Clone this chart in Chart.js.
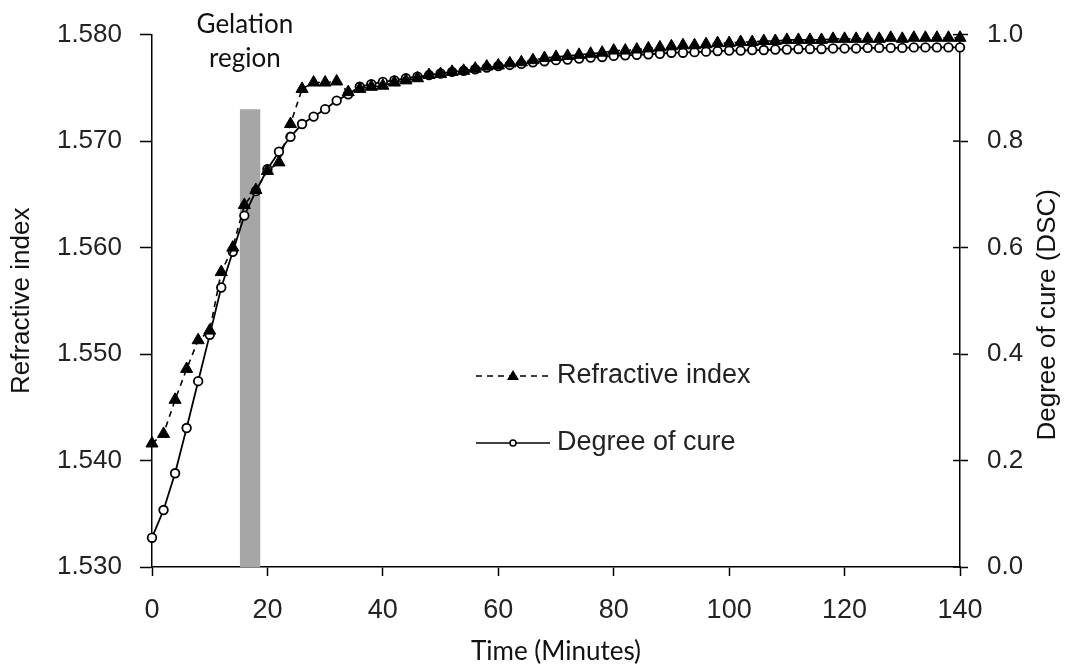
<!DOCTYPE html>
<html lang="en">
<head>
<meta charset="UTF-8">
<title>Refractive index and degree of cure</title>
<script src="https://cdn.jsdelivr.net/npm/chart.js"></script>
<style>
  body { margin: 0; background: #fff; }
  #wrap { width: 1067px; height: 667px; }
</style>
</head>
<body>
<div id="wrap"><canvas id="chart" width="1067" height="667"></canvas></div>
<script>
// time in minutes
const times = [
  0, 2, 4, 6, 8, 10, 12, 14, 16, 18,
  20, 22, 24, 26, 28, 30, 32, 34, 36, 38,
  40, 42, 44, 46, 48, 50, 52, 54, 56, 58,
  60, 62, 64, 66, 68, 70, 72, 74, 76, 78,
  80, 82, 84, 86, 88, 90, 92, 94, 96, 98,
  100, 102, 104, 106, 108, 110, 112, 114, 116, 118,
  120, 122, 124, 126, 128, 130, 132, 134, 136, 138,
  140
];

// left axis
const refractiveIndex = [
  1.5416, 1.5425, 1.5457, 1.5486, 1.5513, 1.5522, 1.5577, 1.5600, 1.5640, 1.5654,
  1.5672, 1.5680, 1.5716, 1.5749, 1.5755, 1.5755, 1.5756, 1.5746, 1.5749, 1.5751,
  1.5752, 1.5755, 1.5757, 1.5759, 1.5762, 1.5763, 1.5765, 1.5766, 1.5768, 1.5770,
  1.5771, 1.5773, 1.5774, 1.5776, 1.5778, 1.5779, 1.5780, 1.5781, 1.5782, 1.5783,
  1.5785, 1.5785, 1.5786, 1.5787, 1.5788, 1.5789, 1.5790, 1.5790, 1.5791, 1.5792,
  1.5792, 1.5793, 1.5793, 1.5794, 1.5794, 1.5795, 1.5795, 1.5795, 1.5795, 1.5796,
  1.5796, 1.5796, 1.5796, 1.5796, 1.5797, 1.5796, 1.5797, 1.5797, 1.5797, 1.5797,
  1.5797
];

// right axis (DSC)
const degreeOfCure = [
  0.055, 0.107, 0.176, 0.261, 0.349, 0.436, 0.525, 0.592, 0.660, 0.706,
  0.747, 0.780, 0.808, 0.832, 0.846, 0.860, 0.876, 0.888, 0.902, 0.907,
  0.911, 0.914, 0.918, 0.921, 0.924, 0.927, 0.930, 0.932, 0.935, 0.938,
  0.941, 0.943, 0.945, 0.948, 0.950, 0.952, 0.953, 0.955, 0.957, 0.958,
  0.960, 0.961, 0.962, 0.963, 0.964, 0.966, 0.966, 0.967, 0.968, 0.969,
  0.970, 0.970, 0.971, 0.971, 0.972, 0.972, 0.973, 0.973, 0.973, 0.974,
  0.974, 0.974, 0.975, 0.975, 0.975, 0.975, 0.976, 0.976, 0.976, 0.976,
  0.976
];

// gray band marking the gelation region
const gelationX = [15.2, 18.8];
const gelationTop = [1.573, 1.573];

const gelationLabel = ['Gelation', 'region'];
const rightTitle = 'Degree of cure (DSC)';

// labels, legend, right title and the inner half of the right-axis ticks
const extras = {
  id: 'extras',
  afterDraw(chart) {
    const ctx = chart.ctx;
    const x = chart.scales.x;
    const yr = chart.scales.y1;
    const area = chart.chartArea;
    ctx.save();

    ctx.strokeStyle = '#000';
    ctx.lineWidth = 1.5;
    yr.ticks.forEach(t => {
      const py = yr.getPixelForValue(t.value);
      ctx.beginPath();
      ctx.moveTo(yr.left - 7, py);
      ctx.lineTo(yr.left, py);
      ctx.stroke();
    });

    ctx.fillStyle = '#111';
    ctx.font = '26px Lato';
    ctx.textAlign = 'center';
    ctx.textBaseline = 'alphabetic';
    const gx = x.getPixelForValue(16.1);
    ctx.fillText(gelationLabel[0], gx, 33);
    ctx.fillText(gelationLabel[1], gx, 67);

    // right axis title, reading bottom to top like the left one
    ctx.save();
    ctx.translate(1048, (area.top + area.bottom) / 2 + 14);
    ctx.rotate(-Math.PI / 2);
    ctx.font = '26px "Liberation Sans"';
    ctx.textBaseline = 'middle';
    ctx.fillText(rightTitle, 0, 0);
    ctx.restore();

    // legend
    ctx.font = '27px "Liberation Sans"';
    ctx.textAlign = 'left';
    ctx.textBaseline = 'middle';

    let ly = 376;
    ctx.setLineDash([6, 5]);
    ctx.beginPath();
    ctx.moveTo(476, ly);
    ctx.lineTo(550, ly);
    ctx.stroke();
    ctx.setLineDash([]);
    ctx.fillStyle = '#000';
    ctx.beginPath();
    ctx.moveTo(513, ly - 6);
    ctx.lineTo(519, ly + 4);
    ctx.lineTo(507, ly + 4);
    ctx.closePath();
    ctx.fill();
    ctx.fillStyle = '#222';
    ctx.fillText('Refractive index', 557, ly);

    ly = 443;
    ctx.beginPath();
    ctx.moveTo(476, ly);
    ctx.lineTo(550, ly);
    ctx.stroke();
    ctx.fillStyle = '#fff';
    ctx.beginPath();
    ctx.arc(513, ly, 3, 0, Math.PI * 2);
    ctx.fill();
    ctx.stroke();
    ctx.fillStyle = '#222';
    ctx.fillText('Degree of cure', 557, ly);

    ctx.restore();
  }
};

const tickFont = { family: 'Liberation Sans', size: 26 };

new Chart(document.getElementById('chart'), {
  type: 'line',
  data: {
    datasets: [
      {
        label: 'Refractive index',
        data: times.map((t, i) => ({ x: t, y: refractiveIndex[i] })),
        yAxisID: 'y',
        borderColor: '#000',
        borderWidth: 1.6,
        borderDash: [6, 5],
        pointStyle: 'triangle',
        pointRadius: 7,
        pointBackgroundColor: '#000',
        pointBorderColor: '#000',
        pointBorderWidth: 1,
        tension: 0,
        clip: false,
        order: 1
      },
      {
        label: 'Degree of cure',
        data: times.map((t, i) => ({ x: t, y: degreeOfCure[i] })),
        yAxisID: 'y1',
        borderColor: '#000',
        borderWidth: 1.8,
        pointStyle: 'circle',
        pointRadius: 4.3,
        pointBackgroundColor: '#fff',
        pointBorderColor: '#000',
        pointBorderWidth: 1.8,
        tension: 0,
        clip: false,
        order: 2
      },
      {
        label: 'Gelation region',
        data: gelationX.map((g, i) => ({ x: g, y: gelationTop[i] })),
        yAxisID: 'y',
        borderWidth: 0,
        pointRadius: 0,
        fill: 'start',
        backgroundColor: '#a6a6a6',
        order: 3
      }
    ]
  },
  options: {
    responsive: false,
    animation: false,
    layout: { padding: { top: 26 } },
    plugins: {
      legend: { display: false },
      tooltip: { enabled: false }
    },
    scales: {
      x: {
        type: 'linear',
        min: 0,
        max: 140,
        ticks: { stepSize: 20, color: '#222', font: { family: 'Liberation Sans', size: 27 }, padding: 18 },
        grid: { drawOnChartArea: false, color: '#000', tickLength: 9, tickWidth: 1.5 },
        border: { color: '#000', width: 1.5 },
        title: { display: true, text: 'Time (Minutes)', color: '#111', font: { family: 'Lato', size: 26 }, padding: { top: 0, bottom: 0 } },
        afterFit(s) { s.height = 100; }
      },
      y: {
        position: 'left',
        min: 1.53,
        max: 1.58,
        ticks: { stepSize: 0.01, color: '#222', font: tickFont, padding: 18, callback: v => v.toFixed(3) },
        grid: { drawOnChartArea: false, color: '#000', tickLength: 12, tickWidth: 1.5 },
        border: { color: '#000', width: 1.5 },
        title: { display: true, text: 'Refractive index', color: '#111', font: { family: 'Liberation Sans', size: 26 }, padding: { top: 6, bottom: 0 } },
        afterFit(s) { s.width = 152; }
      },
      y1: {
        position: 'right',
        min: 0,
        max: 1,
        ticks: { stepSize: 0.2, color: '#222', font: tickFont, padding: 19, callback: v => v.toFixed(1) },
        grid: { drawOnChartArea: false, color: '#000', tickLength: 8, tickWidth: 1.5 },
        border: { color: '#000', width: 1.5 },
        title: { display: false },
        afterFit(s) { s.width = 107; }
      }
    }
  },
  plugins: [extras]
});
</script>
</body>
</html>
